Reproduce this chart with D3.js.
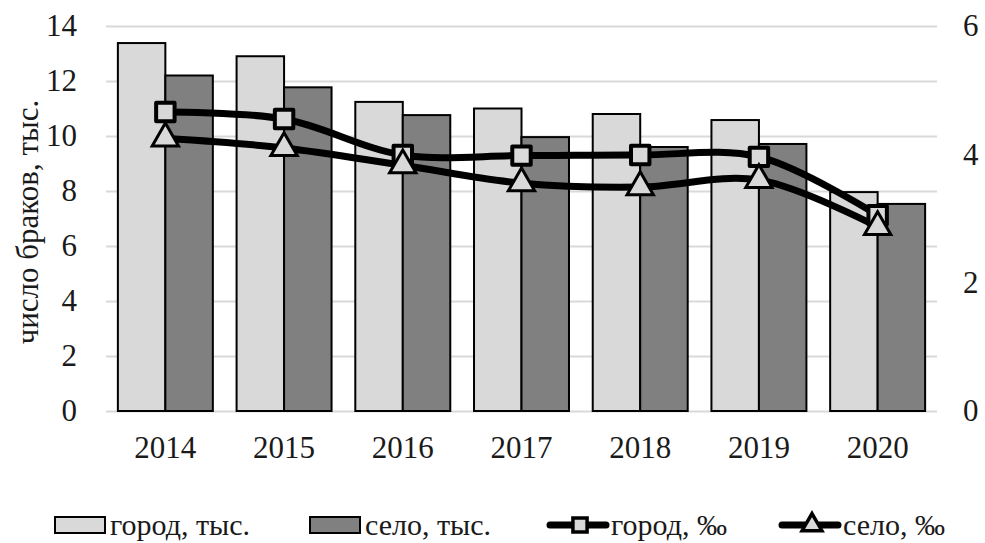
<!DOCTYPE html>
<html>
<head>
<meta charset="utf-8">
<script src="https://cdn.jsdelivr.net/npm/d3@7"></script>
<style>
  body { margin: 0; background: #fff; }
  svg text { font-family: "Liberation Serif", "Times New Roman", serif; fill: #1a1a1a; }
</style>
</head>
<body>
<svg></svg>
<script>
// data
const years = ["2014", "2015", "2016", "2017", "2018", "2019", "2020"];
const cityThous = [13.38, 12.9, 11.24, 11.0, 10.8, 10.58, 7.96];
const villageThous = [12.2, 11.77, 10.76, 9.96, 9.6, 9.71, 7.53];
const cityPermille = [4.66, 4.55, 3.99, 3.98, 3.99, 3.96, 3.05];
const villagePermille = [4.25, 4.1, 3.83, 3.55, 3.49, 3.6, 2.87];
const leftTicks = [0, 2, 4, 6, 8, 10, 12, 14];
const rightTicks = [0, 2, 4, 6];

const W = 985, H = 543;
const FS = 31;
const FONT = "Liberation Serif";
const margin = { top: 26, right: 48, bottom: 132, left: 106 };
const width = W - margin.left - margin.right,
    height = H - margin.top - margin.bottom;

const svg = d3.select("svg").attr("width", W).attr("height", H);
const g = svg.append("g").attr("transform", "translate(" + margin.left + "," + margin.top + ")");

const x = d3.scaleBand().domain(years).range([0, width]).paddingInner(0.2).paddingOuter(0.1);
const x1 = d3.scaleBand().domain([0, 1]).range([0, x.bandwidth()]);
const y = d3.scaleLinear().domain([0, 14]).range([height, 0]);
const y2 = d3.scaleLinear().domain([0, 6]).range([height, 0]);

function styleText(s) {
    s.selectAll("text").attr("font-size", FS).attr("font-family", FONT);
}

// gridlines
g.append("g")
    .call(d3.axisLeft(y).tickValues(leftTicks).tickSize(-width).tickFormat(""))
    .call(s => s.select(".domain").remove())
    .call(s => s.selectAll("line").attr("stroke", "#d9d9d9").attr("stroke-width", 2));

// left axis labels
g.append("g")
    .call(d3.axisLeft(y).tickValues(leftTicks).tickSize(0).tickPadding(29))
    .call(s => s.select(".domain").remove())
    .call(styleText);

// right axis labels
g.append("g")
    .attr("transform", "translate(" + width + ",0)")
    .call(d3.axisRight(y2).tickValues(rightTicks).tickFormat(d3.format("d")).tickSize(0).tickPadding(26))
    .call(s => s.select(".domain").remove())
    .call(styleText);

// bottom axis
g.append("g")
    .attr("transform", "translate(0," + height + ")")
    .call(d3.axisBottom(x).tickSize(0).tickPadding(25))
    .call(s => s.select(".domain").remove())
    .call(styleText);

// bars
const series = [
    { vals: cityThous, fill: "#d9d9d9" },
    { vals: villageThous, fill: "#808080" }
];
series.forEach((s, i) => {
    g.append("g").selectAll("rect")
        .data(years.map((yr, j) => ({ yr: yr, v: s.vals[j] })))
        .join("rect")
        .attr("x", d => x(d.yr) + x1(i))
        .attr("y", d => y(d.v))
        .attr("width", x1.bandwidth())
        .attr("height", d => height - y(d.v))
        .attr("fill", s.fill)
        .attr("stroke", "#000")
        .attr("stroke-width", 2);
});

// lines
const line = d3.line()
    .x((d, i) => x(years[i]) + x.bandwidth() / 2)
    .y(d => y2(d))
    .curve(d3.curveCatmullRom.alpha(0.5));

[cityPermille, villagePermille].forEach(vals => {
    g.append("path")
        .datum(vals)
        .attr("d", line)
        .attr("fill", "none")
        .attr("stroke", "#000")
        .attr("stroke-width", 7);
});

const square = d3.symbol().type(d3.symbolSquare).size(340);
const tri = d3.symbol().type(d3.symbolTriangle).size(300);

g.append("g").selectAll("path")
    .data(cityPermille)
    .join("path")
    .attr("d", square)
    .attr("transform", (d, i) => "translate(" + (x(years[i]) + x.bandwidth() / 2) + "," + y2(d) + ")")
    .attr("fill", "#d9d9d9")
    .attr("stroke", "#000")
    .attr("stroke-width", 4)
    .attr("stroke-linejoin", "round");

g.append("g").selectAll("path")
    .data(villagePermille)
    .join("path")
    .attr("d", tri)
    .attr("transform", (d, i) => "translate(" + (x(years[i]) + x.bandwidth() / 2) + "," + y2(d) + ")")
    .attr("fill", "#d9d9d9")
    .attr("stroke", "#000")
    .attr("stroke-width", 3);

// y axis title
svg.append("text")
    .attr("transform", "translate(27," + 222 + ") rotate(-90)")
    .attr("text-anchor", "middle")
    .attr("dy", "0.35em")
    .attr("font-size", FS)
    .attr("font-family", FONT)
    .text("число браков, тыс.");

// legend
const ly = 525;
const legend = svg.append("g");
const legendItems = [
    { x: 55, type: "bar", fill: "#d9d9d9", label: "город, тыс." },
    { x: 310, type: "bar", fill: "#808080", label: "село, тыс." },
    { x: 548, type: "square", label: "город, ‰" },
    { x: 780, type: "tri", label: "село, ‰" }
];
legendItems.forEach(it => {
    const li = legend.append("g").attr("transform", "translate(" + it.x + "," + ly + ")");
    if (it.type === "bar") {
        li.append("rect").attr("x", 0).attr("y", -8).attr("width", 50).attr("height", 16)
            .attr("fill", it.fill).attr("stroke", "#000").attr("stroke-width", 2);
    } else {
        li.append("line").attr("x1", 2).attr("x2", 58).attr("y1", 0).attr("y2", 0)
            .attr("stroke", "#000").attr("stroke-width", 7).attr("stroke-linecap", "round");
        li.append("path").attr("d", it.type === "square" ? d3.symbol().type(d3.symbolSquare).size(200)() : d3.symbol().type(d3.symbolTriangle).size(170)())
            .attr("transform", "translate(32,0)")
            .attr("fill", "#d9d9d9").attr("stroke", "#000").attr("stroke-width", 3.5);
    }
    li.append("text").attr("x", it.type === "bar" ? 55 : 63).attr("y", 0).attr("dy", "0.32em")
        .attr("font-size", 30).attr("font-family", FONT).text(it.label);
});
</script>
</body>
</html>
